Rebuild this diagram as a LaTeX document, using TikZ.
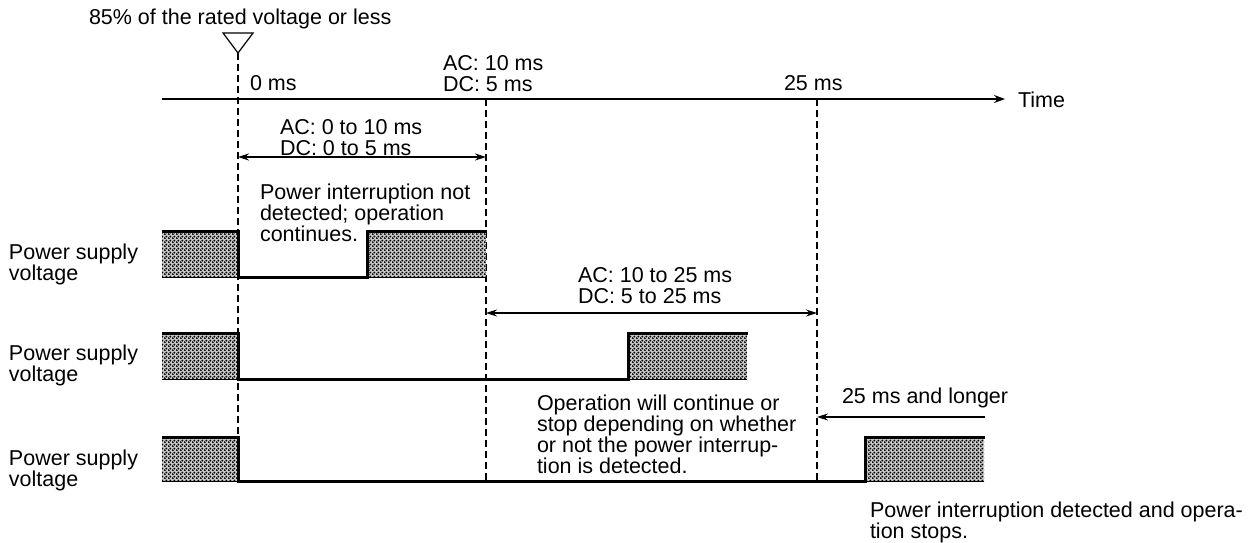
\documentclass[tikz,border=0pt]{standalone}
\usepackage{fontspec}
\setmainfont{Liberation Sans}
\usetikzlibrary{arrows.meta,patterns.meta}
\tikzdeclarepattern{
  name=psdots,
  bounding box={(0pt,0pt) and (4pt,4pt)},
  tile size={(4pt,4pt)},
  code={
    \fill (1pt,1pt) circle (1.25pt);
    \fill (3pt,3pt) circle (1.25pt);
  }
}
\begin{document}
\begin{tikzpicture}[x=1pt,y=-1pt,
  every node/.style={inner sep=0pt,outer sep=0pt},
  lbl/.style={anchor=north west,align=left,font=\fontsize{21.5}{21}\selectfont},
  lblone/.style={anchor=west,font=\fontsize{21.5}{21}\selectfont},
  guide/.style={line width=1.1pt,dash pattern=on 7pt off 4pt},
  axisline/.style={line width=1.2pt,-{Stealth[length=11pt,width=8pt]}},
  span/.style={line width=1.2pt,{Stealth[length=11pt,width=7pt]}-{Stealth[length=11pt,width=7pt]}},
  onearrow/.style={line width=1.2pt,-{Stealth[length=11pt,width=7pt]}},
  hatch/.style={fill=black!22,postaction={pattern=psdots}},
  hatchedge/.style={line width=1pt},
  signal/.style={line width=3pt,line join=miter,line cap=rect},
]
\useasboundingbox (0,0) rectangle (1259,543);

% header text and marker
\node[lbl] (hdr) at (89,9) {85\% of the rated voltage or less};
\coordinate (triL) at (223,33);
\coordinate (triR) at (253,33);
\coordinate (triA) at (238,53);
\draw[line width=1.2pt,line join=miter] (triL) -- (triR) -- (triA) -- cycle;

% time axis
\coordinate (axS) at (162,99);
\coordinate (axE) at (1005,99);
\draw[axisline] (axS) -- (axE);
\node[lblone] (time) at (1018,100) {Time};
\node[lblone] (t0lbl) at (250,83) {0 ms};
\node[lbl] (t1lbl) at (443,55) {AC: 10 ms\\DC: 5 ms};
\node[lblone] (t2lbl) at (784,83) {25 ms};

% guide lines
\coordinate (g0b) at (238,481);
\coordinate (g1t) at (486,99);
\coordinate (g1b) at (486,481);
\coordinate (g2t) at (817,99);
\coordinate (g2b) at (817,481);
\draw[guide] (triA) -- (g0b);
\draw[guide] (g1t) -- (g1b);
\draw[guide] (g2t) -- (g2b);

% span 1
\node[lbl] (span1lbl) at (280,119) {AC: 0 to 10 ms\\DC: 0 to 5 ms};
\coordinate (s1a) at (238,157);
\coordinate (s1b) at (486,157);
\draw[span] (s1a) -- (s1b);
\node[lbl] (note1) at (260,184) {Power interruption not\\detected; operation\\continues.};

% labels on the left
\node[lbl,font=\fontsize{21.5}{20}\selectfont] (psv1) at (9,244) {Power supply\\voltage};
\node[lbl,font=\fontsize{21.5}{20}\selectfont] (psv2) at (9,345) {Power supply\\voltage};
\node[lbl,font=\fontsize{21.5}{20}\selectfont] (psv3) at (9,450) {Power supply\\voltage};

% wave 1
\fill[hatch] (162,231) rectangle (238,277);
\fill[hatch] (367,231) rectangle (486,277);
\draw[hatchedge] (162,277) -- (238,277);
\draw[hatchedge] (367,277) -- (486,277);
\draw[signal] (163,231) -- (238,231) -- (238,277) -- (367,277) -- (367,231) -- (485,231);

% span 2
\node[lbl] (span2lbl) at (578,267) {AC: 10 to 25 ms\\DC: 5 to 25 ms};
\coordinate (s2a) at (486,313);
\coordinate (s2b) at (817,313);
\draw[span] (s2a) -- (s2b);

% wave 2
\fill[hatch] (162,333) rectangle (238,379);
\fill[hatch] (628,333) rectangle (747,379);
\draw[hatchedge] (162,379) -- (238,379);
\draw[hatchedge] (628,379) -- (747,379);
\draw[signal] (163,333) -- (238,333) -- (238,379) -- (628,379) -- (628,333) -- (746,333);

% note 2 and 25 ms arrow
\node[lbl] (note2) at (537,395) {Operation will continue or\\stop depending on whether\\or not the power interrup-\\tion is detected.};
\node[lblone] (longer) at (842,398) {25 ms and longer};
\coordinate (a3s) at (985,417);
\coordinate (a3e) at (817,417);
\draw[onearrow] (a3s) -- (a3e);

% wave 3
\fill[hatch] (162,437) rectangle (238,481);
\fill[hatch] (865,437) rectangle (984,481);
\draw[hatchedge] (162,481) -- (238,481);
\draw[hatchedge] (865,481) -- (984,481);
\draw[signal] (163,437) -- (238,437) -- (238,481) -- (865,481) -- (865,437) -- (983,437);

\node[lbl] (note3) at (870,502) {Power interruption detected and opera-\\tion stops.};
\end{tikzpicture}
\end{document}
